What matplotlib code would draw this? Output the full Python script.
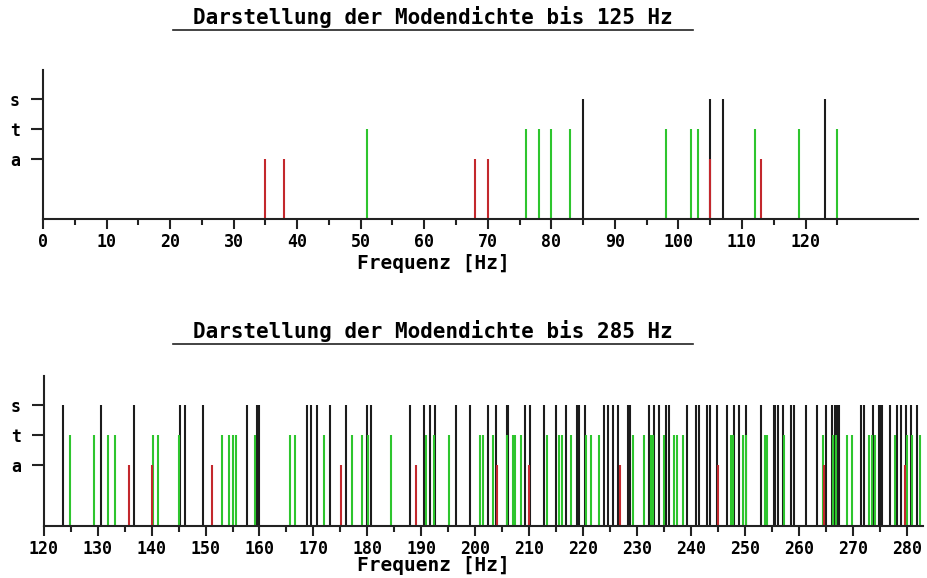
import matplotlib.pyplot as plt
from matplotlib.lines import Line2D

# Moden bis 125 Hz (a = axial, t = tangential, s = schraeg)
f1_a = [35, 38, 68, 70, 105, 113]
f1_t = [51, 76, 78, 80, 83, 98, 102, 103, 112, 119, 125]
f1_s = [85, 105, 107, 123]

# Moden 120 - 285 Hz
f2_a = [135.9, 140.0, 151.2, 175.2, 189.1, 204.1, 210.0, 226.8, 245.0, 264.6, 279.7]
f2_t = [124.9, 129.3, 132.0, 133.2, 140.3, 141.2, 145.0, 153.0, 154.4, 155.0, 155.7,
        159.2, 165.7, 166.6, 171.9, 177.2, 179.0, 180.1, 184.4, 190.8, 192.3, 195.2,
        200.8, 201.4, 203.2, 205.9, 207.0, 207.3, 208.5, 213.3, 215.6, 216.0, 217.8,
        220.6, 221.5, 222.9, 229.3, 231.2, 232.6, 232.9, 235.0, 236.8, 237.4, 238.6,
        247.4, 247.7, 249.7, 250.2, 253.8, 254.1, 257.3, 264.5, 266.4, 266.9, 268.9,
        269.8, 273.0, 273.5, 274.1, 277.9, 280.0, 280.9, 282.4]
f2_s = [123.5, 130.6, 136.8, 145.3, 146.2, 149.5, 157.7, 159.5, 160.0, 168.9, 169.6,
        170.7, 173.1, 176.1, 179.9, 180.6, 187.9, 190.5, 191.7, 192.6, 196.5, 199.1,
        202.3, 203.8, 205.9, 206.1, 209.2, 210.2, 212.7, 214.9, 216.8, 218.9, 219.2,
        220.4, 223.8, 224.6, 225.6, 226.5, 228.3, 228.7, 232.3, 233.2, 234.1, 235.4,
        235.9, 239.2, 240.9, 241.4, 243.0, 243.5, 244.8, 246.7, 247.9, 248.9, 250.1,
        252.9, 255.3, 255.6, 256.1, 257.0, 258.6, 259.0, 261.3, 263.3, 265.0, 266.2,
        266.6, 267.0, 267.5, 271.5, 272.0, 273.7, 274.8, 275.1, 275.4, 276.8, 278.2,
        279.0, 279.8, 280.8, 281.8]

titles = ['Darstellung der Modendichte bis 125 Hz', 'Darstellung der Modendichte bis 285 Hz']
ytick_labels = ['a', 't', 's']
ytick_pos = [2, 3, 4]

col_a = '#c3282d'
col_t = '#2ec52e'
col_s = '#1c1c1c'
font = 'DejaVu Sans Mono'

W, H = 928, 578
fig = plt.figure(figsize=(W / 100, H / 100), dpi=100)
fig.patch.set_facecolor('white')


def panel(rect, fa, ft, fs, xlim, majors, minors, title, title_y, label_off):
    ax = fig.add_axes(rect)
    ax.vlines(fs, 0, 4, colors=col_s, lw=1.5)
    ax.vlines(ft, 0, 3, colors=col_t, lw=1.5)
    ax.vlines(fa, 0, 2, colors=col_a, lw=1.5)
    ax.set_xlim(*xlim)
    ax.set_ylim(0, 4.95)
    for sp in ['top', 'right']:
        ax.spines[sp].set_visible(False)
    for sp in ['left', 'bottom']:
        ax.spines[sp].set_linewidth(1.5)
        ax.spines[sp].set_color('#222222')
    ax.set_xticks(majors)
    ax.set_xticks(minors, minor=True)
    ax.set_xticklabels([str(m) for m in majors], fontfamily=font,
                       fontweight='bold', fontsize=12)
    ax.tick_params(axis='x', which='major', direction='out', length=7,
                   width=1.5, pad=3, color='#222222')
    ax.tick_params(axis='x', which='minor', direction='out', length=4.5,
                   width=1.5, color='#222222')
    ax.set_yticks(ytick_pos)
    ax.set_yticklabels(ytick_labels, fontfamily=font, fontweight='bold', fontsize=12)
    ax.tick_params(axis='y', direction='out', length=8.5, width=1.5, pad=8,
                   color='#222222')
    ax.set_xlabel('Frequenz [Hz]', fontfamily=font, fontweight='bold', fontsize=14)
    ax.xaxis.label.set_va('center')
    ax.xaxis.set_label_coords((433 - rect[0] * W) / (rect[2] * W),
                              -label_off / (rect[3] * H))
    # Titel mit Unterstrich
    fig.text(433 / W, 1 - title_y / H, title, ha='center', va='center',
             fontfamily=font, fontweight='bold', fontsize=15)
    uy = 1 - (title_y + 13) / H
    fig.add_artist(Line2D([173 / W, 693 / W], [uy, uy], color='#222222', lw=1.2))
    return ax


panel([43 / W, 1 - 219 / H, 875 / W, 149 / H], f1_a, f1_t, f1_s, (0, 137.7),
      list(range(0, 121, 10)), list(range(5, 126, 10)), titles[0], 17, 45)
panel([43.7 / W, 1 - 525.7 / H, 879.3 / W, 149.7 / H], f2_a, f2_t, f2_s, (120, 283.0),
      list(range(120, 281, 10)), list(range(125, 276, 10)), titles[1], 331, 40)

fig.savefig('out.png', dpi=100, facecolor='white')
